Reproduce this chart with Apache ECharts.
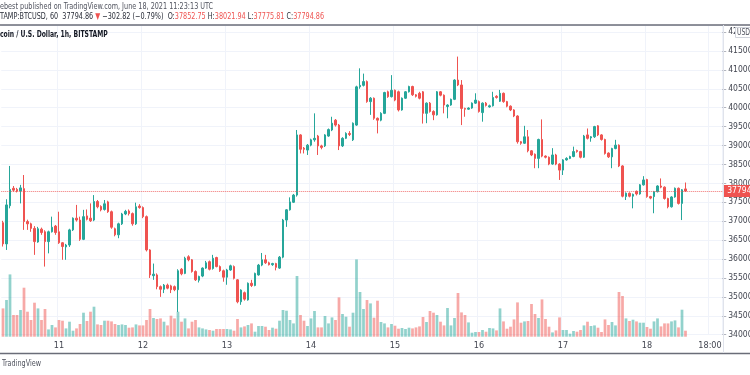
<!DOCTYPE html>
<html>
<head>
<meta charset="utf-8">
<script src="https://cdn.jsdelivr.net/npm/echarts@6/dist/echarts.min.js"></script>
<style>
  html, body { margin: 0; padding: 0; background: #fff; }
  #chart { width: 750px; height: 375px; }
</style>
</head>
<body>
<div id="chart"></div>
<script>
"use strict";

// BTCUSD 1h bars, Bitstamp, 10 Jun 08:00 -> 18 Jun 11:00 (UTC)
var firstBar = Date.UTC(2021, 5, 10, 8);
var slotCount = 206; // bars plus empty space up to the price scale

// [open, close, low, high]
var candles = [
  [36960, 36400, 36330, 37010], [36400, 37430, 36240, 37580], [37410, 37840, 37340, 38460], [37870, 37820, 37780, 37930],
  [37840, 37800, 37760, 37880], [37800, 37880, 37470, 37960], [37860, 36990, 36770, 38220], [36990, 36930, 36770, 37040],
  [36930, 36810, 36720, 36960], [36810, 36460, 36110, 36870], [36450, 36800, 36430, 36850], [36790, 36700, 36640, 36830],
  [36720, 36460, 35800, 36760], [36460, 36720, 36150, 36750], [36720, 36840, 36700, 37120], [36870, 36700, 36640, 36900],
  // 11 Jun
  [36720, 36430, 36400, 37250], [36430, 36330, 35980, 36450], [36320, 36370, 35980, 36400], [36370, 36770, 36320, 36800],
  [36770, 37080, 36740, 37100], [37080, 37030, 36990, 37430], [37030, 36520, 36480, 37120], [36520, 37120, 36500, 37300],
  [37140, 37050, 37020, 37310], [37080, 37010, 36980, 37470], [37030, 37520, 37000, 37690], [37520, 37380, 37340, 37560],
  [37390, 37300, 37260, 37420], [37310, 37460, 37280, 37560], [37510, 37250, 37220, 37540], [37250, 36840, 36800, 37280],
  [36800, 36640, 36600, 36830], [36640, 36930, 36550, 36960], [36930, 37190, 36900, 37220], [37190, 37260, 37160, 37300],
  [37270, 37200, 37150, 37310], [37200, 36930, 36880, 37230], [36930, 37380, 36900, 37490], [37400, 37360, 37330, 37450],
  // 12 Jun
  [37360, 37120, 37080, 37390], [37120, 36240, 36200, 37150], [36240, 35580, 35500, 36260], [35560, 35600, 35450, 35880],
  [35580, 35270, 35200, 35620], [35270, 35200, 35000, 35300], [35200, 35310, 35100, 35340], [35310, 35230, 35200, 35350],
  [35290, 35190, 35100, 35320], [35270, 35190, 35150, 35300], [35190, 35690, 34600, 35730], [35730, 35610, 35570, 35760],
  [35620, 36020, 35600, 36060], [36060, 35980, 35940, 36100], [35980, 35670, 35640, 36000], [35670, 35450, 35420, 35700],
  [35440, 35540, 35380, 35560], [35550, 35760, 35520, 35780], [35760, 35900, 35740, 35950], [35930, 35730, 35700, 35960],
  [35750, 36020, 35720, 36110], [36040, 35800, 35780, 36060], [35800, 35690, 35660, 35830], [35690, 35520, 35400, 35720],
  // 13 Jun
  [35520, 35710, 35320, 35740], [35710, 35820, 35690, 35850], [35800, 35490, 35460, 35830], [35450, 34870, 34830, 35470],
  [34870, 35180, 34790, 35200], [35110, 34940, 34900, 35140], [34920, 35360, 34900, 35380], [35360, 35300, 35260, 35450],
  [35300, 35620, 35280, 35640], [35580, 35840, 35560, 35870], [35840, 35980, 35810, 36160], [35980, 35900, 35870, 36110],
  [35900, 35850, 35830, 35930], [35850, 35880, 35820, 35900], [35880, 35780, 35700, 35900], [35760, 36050, 35740, 36080],
  [36050, 37030, 36020, 37060], [37030, 37300, 36850, 37320], [37300, 37510, 37280, 37630], [37500, 37690, 37480, 37720],
  [37690, 39280, 37650, 39410], [39280, 38900, 38790, 39300], [38930, 38900, 38790, 38960], [38880, 39010, 38750, 39040],
  // 14 Jun
  [39010, 39150, 38980, 39180], [39150, 39190, 39100, 39850], [39250, 38990, 38750, 39280], [38990, 38950, 38900, 39020],
  [38990, 39280, 38960, 39300], [39250, 39420, 39230, 39450], [39410, 39590, 39380, 39760], [39670, 39540, 39500, 39700],
  [39540, 38990, 38880, 39570], [38990, 39190, 38960, 39220], [39190, 39320, 39170, 39350], [39320, 39290, 39250, 39380],
  [39150, 39590, 39120, 39610], [39540, 40550, 39520, 40580], [40550, 40590, 40500, 41040], [40590, 40690, 40560, 40900],
  [40690, 40160, 40130, 40720], [40160, 40250, 39810, 40280], [40250, 39720, 39680, 40270], [39720, 39670, 39320, 39740],
  [39670, 39850, 39640, 39880], [39850, 40400, 39830, 40420], [40420, 40290, 40260, 40450], [40290, 40460, 40270, 40860],
  // 15 Jun
  [40460, 40200, 40170, 40480], [40420, 39940, 39900, 40450], [39940, 40250, 39920, 40270], [40250, 40420, 40230, 40440],
  [40420, 40560, 40400, 40580], [40560, 40340, 40310, 40580], [40340, 40300, 40270, 40360], [40380, 40250, 40220, 40420],
  [40420, 39850, 39580, 40440], [39850, 40120, 39590, 40140], [40120, 39900, 39870, 40150], [39900, 39810, 39670, 39930],
  [39810, 40420, 39790, 40440], [40420, 40330, 40300, 40440], [40330, 40070, 39850, 40350], [40030, 40070, 39720, 40090],
  [40070, 40220, 40050, 40240], [40220, 40730, 40200, 40750], [40730, 40600, 40570, 41350], [40600, 39980, 39540, 40730],
  [39980, 39960, 39760, 40000], [39960, 39990, 39940, 40010], [39990, 40120, 39970, 40140], [40120, 40200, 40100, 40380],
  // 16 Jun
  [40160, 39900, 39870, 40190], [39870, 40120, 39630, 40140], [40120, 40060, 40030, 40150], [40020, 40050, 40000, 40080],
  [40050, 40270, 40030, 40420], [40300, 40270, 40240, 40330], [40170, 40380, 40150, 40470], [40380, 40160, 40130, 40400],
  [40160, 40040, 40010, 40180], [40040, 39940, 39910, 40060], [39940, 39780, 39750, 39960], [39780, 39100, 39050, 39800],
  [39100, 39060, 39020, 39120], [39060, 39230, 39040, 39520], [39230, 38860, 38820, 39410], [38860, 38750, 38720, 38880],
  [38770, 38660, 38400, 38790], [38660, 39160, 38400, 39180], [39160, 38720, 38690, 39690], [38720, 38690, 38660, 38740],
  [38690, 38510, 38480, 38710], [38510, 38750, 38490, 38930], [38750, 38510, 38480, 38780], [38510, 38350, 38090, 38530],
  // 17 Jun
  [38350, 38620, 38220, 38640], [38620, 38660, 38600, 38690], [38660, 38710, 38640, 38730], [38710, 38840, 38690, 38970],
  [38870, 38840, 38810, 38890], [38840, 38690, 38660, 38860], [38690, 39250, 38670, 39280], [39280, 39190, 39160, 39450],
  [39200, 39230, 39100, 39250], [39230, 39500, 39200, 39520], [39520, 39280, 39250, 39540], [39280, 39160, 39130, 39300],
  [39160, 38790, 38760, 39180], [38800, 38700, 38670, 38820], [38700, 38920, 38400, 38940], [38920, 39010, 38900, 39150],
  [39010, 38460, 38430, 39030], [38460, 37660, 37630, 38480], [37650, 37740, 37560, 37760], [37740, 37660, 37630, 37760],
  [37660, 37710, 37340, 37730], [37790, 37720, 37680, 37810], [37720, 37960, 37700, 37980], [37960, 38090, 37940, 38190],
  // 18 Jun
  [38100, 37650, 37620, 38120], [37650, 37610, 37580, 37670], [37650, 37780, 37210, 37800], [37780, 37930, 37760, 37950],
  [37930, 37900, 37870, 38130], [37900, 37600, 37570, 37920], [37600, 37380, 37340, 37620], [37380, 37640, 37360, 37660],
  [37640, 37870, 37620, 37890], [37870, 37470, 37440, 37890], [37470, 37830, 37030, 37850], [37852.75, 37794.86, 37775.81, 38021.94]
];

var volumes = [
  566, 734, 1246, 434, 434, 534, 980, 500, 334, 680, 566, 334, 554, 146, 234, 186,
  334, 320, 166, 300, 120, 166, 254, 480, 314, 500, 600, 246, 234, 320, 320, 306, 254, 234, 246, 234, 180, 186, 246, 226,
  226, 334, 554, 374, 354, 366, 300, 226, 420, 366, 500, 300, 366, 166, 300, 334, 186, 166, 146, 134, 120, 154, 154, 154,
  154, 146, 120, 354, 186, 206, 234, 266, 100, 214, 214, 200, 134, 180, 160, 320, 534, 520, 334, 266, 1214, 434, 320, 214,
  366, 514, 186, 186, 414, 266, 386, 334, 786, 454, 400, 200, 480, 1546, 894, 554, 734, 666, 380, 720, 294, 266, 186, 254,
  220, 160, 174, 154, 180, 166, 186, 206, 394, 294, 514, 480, 434, 300, 226, 574, 226, 374, 874, 486, 434, 286, 80, 94,
  94, 134, 100, 174, 166, 126, 566, 306, 160, 200, 346, 686, 280, 306, 314, 654, 454, 374, 746, 354, 200, 86, 126, 386,
  134, 134, 60, 114, 100, 134, 226, 300, 214, 226, 180, 94, 346, 234, 294, 226, 894, 814, 366, 314, 340, 306, 280, 280,
  194, 160, 306, 366, 206, 266, 266, 306, 326, 186, 540, 120
];

var lastClose = 37794.86;
var upColor = "#26a69a";
var downColor = "#ef5350";

function pad(n) {
  return (n < 10 ? "0" : "") + n;
}

// category names like "06-11 00:00"
var times = [];
for (var i = 0; i < slotCount; i++) {
  var d = new Date(firstBar + i * 3600 * 1000);
  times.push(pad(d.getUTCMonth() + 1) + "-" + pad(d.getUTCDate()) + " " + pad(d.getUTCHours()) + ":00");
}

function isTimeTick(index, value) {
  return value.slice(6, 8) === "00" || value === "06-18 18:00";
}

var volData = volumes.map(function (v, k) {
  var up = candles[k][1] >= candles[k][0];
  return {
    value: v,
    itemStyle: { color: up ? "rgba(38,166,154,0.5)" : "rgba(239,83,80,0.5)" },
  };
});

var font = "'Liberation Sans Narrow', 'DejaVu Sans Condensed', Roboto, sans-serif";

var myChart = echarts.init(document.getElementById("chart"));
var option = {
  animation: false,
  backgroundColor: "#ffffff",
  textStyle: { fontFamily: font },
  grid: [
    { left: 1.25, right: 27.75, top: 25, bottom: 40.3, containLabel: false, outerBoundsMode: "none" },
    { left: 1.25, right: 27.75, top: 236.7, bottom: 38.3, containLabel: false, outerBoundsMode: "none" },
  ],
  xAxis: [
    {
      type: "category",
      gridIndex: 0,
      data: times,
      boundaryGap: true,
      axisLine: { show: false },
      axisTick: { show: false },
      axisLabel: { show: false },
      splitLine: { show: true, interval: isTimeTick, lineStyle: { color: "#f0f3fa", width: 1 } },
    },
    {
      type: "category",
      gridIndex: 1,
      data: times,
      boundaryGap: true,
      axisLine: { show: false },
      axisTick: { show: false },
      splitLine: { show: false },
      axisLabel: {
        interval: isTimeTick,
        margin: 4,
        fontSize: 9,
        color: "#434651",
        fontFamily: font,
        formatter: function (value) {
          var hh = value.slice(6, 8);
          return hh === "00" ? String(+value.slice(3, 5)) : value.slice(6);
        },
      },
    },
  ],
  yAxis: [
    {
      type: "value",
      gridIndex: 0,
      position: "right",
      min: 34000,
      max: 42185,
      interval: 500,
      axisLine: { show: false },
      axisTick: { show: true, length: 4, lineStyle: { color: "#b2b5be" } },
      splitLine: { show: true, lineStyle: { color: "#f0f3fa", width: 1 } },
      axisLabel: {
        showMaxLabel: false,
        margin: 6,
        fontSize: 8.5,
        color: "#434651",
        fontFamily: font,
        formatter: function (v) {
          return v.toFixed(2);
        },
      },
    },
    {
      type: "value",
      gridIndex: 1,
      min: 0,
      max: 2000,
      show: false,
      splitLine: { show: false },
    },
  ],
  series: [
    {
      type: "bar",
      name: "Volume",
      xAxisIndex: 1,
      yAxisIndex: 1,
      data: volData,
      barWidth: "78%",
      z: 1,
    },
    {
      type: "candlestick",
      name: "BTCUSD",
      xAxisIndex: 0,
      yAxisIndex: 0,
      data: candles,
      barWidth: "70%",
      z: 3,
      itemStyle: {
        color: upColor,
        color0: downColor,
        borderColor: upColor,
        borderColor0: downColor,
        borderWidth: 1,
      },
      markLine: {
        silent: true,
        symbol: "none",
        data: [{ yAxis: lastClose }],
        lineStyle: { color: "rgba(239,83,80,0.8)", type: "dotted", width: 1 },
        label: {
          position: "end",
          distance: 1,
          formatter: "37794.86",
          color: "#ffffff",
          backgroundColor: downColor,
          padding: [2, 4, 1, 4],
          fontSize: 8.5,
          fontFamily: font,
        },
      },
    },
  ],
  graphic: [
    { type: "line", shape: { x1: 0, y1: 25, x2: 750, y2: 25 }, style: { stroke: "#6a6d78", lineWidth: 1.5 }, z: 10 },
    { type: "line", shape: { x1: 0, y1: 353.5, x2: 750, y2: 353.5 }, style: { stroke: "#6a6d78", lineWidth: 1.5 }, z: 10 },
    { type: "line", shape: { x1: 723.5, y1: 25, x2: 723.5, y2: 353 }, style: { stroke: "#e0e3eb", lineWidth: 1 }, z: 10 },
    {
      type: "text",
      x: 0,
      y: 2,
      scaleX: 0.8,
      style: {
        text: "ebest published on TradingView.com, June 18, 2021 11:23:13 UTC",
        fill: "#50535e",
        font: "9px " + font,
        verticalAlign: "top",
      },
    },
    {
      type: "text",
      x: 0,
      y: 12,
      scaleX: 0.8,
      style: {
        text: "{d|TAMP:BTCUSD, 60  37794.86 }{r|▼}{d| −302.82 (−0.79%)  O:}{r|37852.75}{d| H:}{r|38021.94}{d| L:}{r|37775.81}{d| C:}{r|37794.86}",
        font: "9px " + font,
        verticalAlign: "top",
        rich: {
          d: { fill: "#2a2e39", fontSize: 9, fontFamily: font },
          r: { fill: downColor, fontSize: 9, fontFamily: font },
        },
      },
    },
    {
      type: "text",
      x: 0,
      y: 30,
      z: 15,
      scaleX: 0.75,
      style: {
        text: "coin / U.S. Dollar, 1h, BITSTAMP",
        fill: "#131722",
        font: "bold 9px " + font,
        verticalAlign: "top",
      },
    },
    {
      type: "text",
      x: 2,
      y: 359,
      scaleX: 0.8,
      style: { text: "TradingView", fill: "#50535e", font: "9px " + font, verticalAlign: "top" },
    },
    {
      type: "rect",
      shape: { x: 735.5, y: 27.5, width: 16, height: 10 },
      style: { fill: "#ffffff", stroke: "#d1d4dc", lineWidth: 1 },
      z: 20,
    },
    {
      type: "text",
      x: 737,
      y: 28.5,
      z: 21,
      scaleX: 0.85,
      style: { text: "USD", fill: "#50535e", font: "8px " + font, verticalAlign: "top" },
    },
  ],
};
myChart.setOption(option);
window.onresize = function () {
  myChart.resize();
};
</script>
</body>
</html>
